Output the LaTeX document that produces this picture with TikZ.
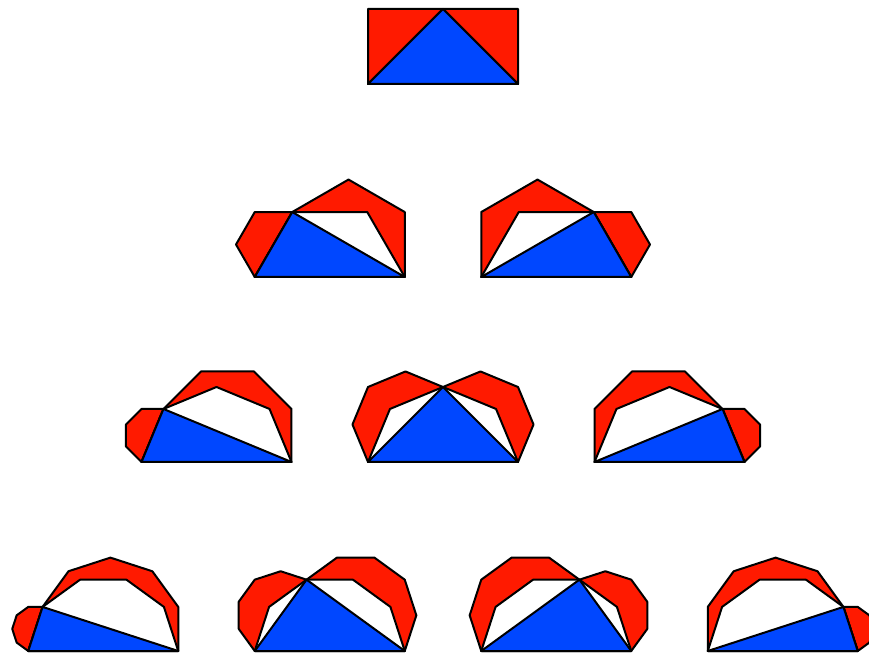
\documentclass[tikz,border=0pt]{standalone}
\definecolor{lred}{RGB}{255,26,0}
\definecolor{lblue}{RGB}{0,71,255}
\tikzset{
 lune/.style={fill=lred,draw=black,line width=2pt,line join=round},
 gap/.style={fill=white,draw=black,line width=2pt,line join=round},
 tri/.style={fill=lblue,draw=black,line width=2pt,line join=round}
}
\newcommand\halfpoly[5]{%
 \draw[#1] ({#2+#4*cos(#5)},{#3+#4*sin(#5)})
   \foreach \j in {1,...,\LFm}{ -- ({#2+#4*cos(#5+\j*180/\LFm)},{#3+#4*sin(#5+\j*180/\LFm)}) } -- cycle;
}
\newcommand\lunefig[4]{%
 \pgfmathtruncatemacro\LFm{#3}%
 \pgfmathsetmacro\LFal{(#3-#4)*180/(2*#3)}%
 \pgfmathsetmacro\LFcx{#1+75+75*cos(2*\LFal)}%
 \pgfmathsetmacro\LFcy{#2+75*sin(2*\LFal)}%
 \pgfmathsetmacro\LFma{(#1+\LFcx)/2}%
 \pgfmathsetmacro\LFna{(#2+\LFcy)/2}%
 \pgfmathsetmacro\LFra{75*cos(\LFal)}%
 \pgfmathsetmacro\LFmb{(#1+150+\LFcx)/2}%
 \pgfmathsetmacro\LFnb{(#2+\LFcy)/2}%
 \pgfmathsetmacro\LFrb{75*sin(\LFal)}%
 \pgfmathsetmacro\LFpb{\LFal-90}%
 \halfpoly{lune}{\LFma}{\LFna}{\LFra}{\LFal}
 \halfpoly{lune}{\LFmb}{\LFnb}{\LFrb}{\LFpb}
 \halfpoly{gap}{#1+75}{#2}{75}{0}
 \draw[tri] (#1,#2) -- (\LFcx,\LFcy) -- ({#1+150},#2) -- cycle;
}
\begin{document}
\begin{tikzpicture}[x=1pt,y=1pt]
\useasboundingbox (0,0) rectangle (869,653);
% level 0
\lunefig{368}{569}{2}{1}
% level 1
\lunefig{254.75}{376}{3}{1}
\lunefig{481.25}{376}{3}{2}
% level 2
\lunefig{141.5}{191}{4}{1}
\lunefig{368}{191}{4}{2}
\lunefig{594.5}{191}{4}{3}
% level 3
\lunefig{28.25}{2}{5}{1}
\lunefig{254.75}{2}{5}{2}
\lunefig{481.25}{2}{5}{3}
\lunefig{707.75}{2}{5}{4}
\end{tikzpicture}
\end{document}
